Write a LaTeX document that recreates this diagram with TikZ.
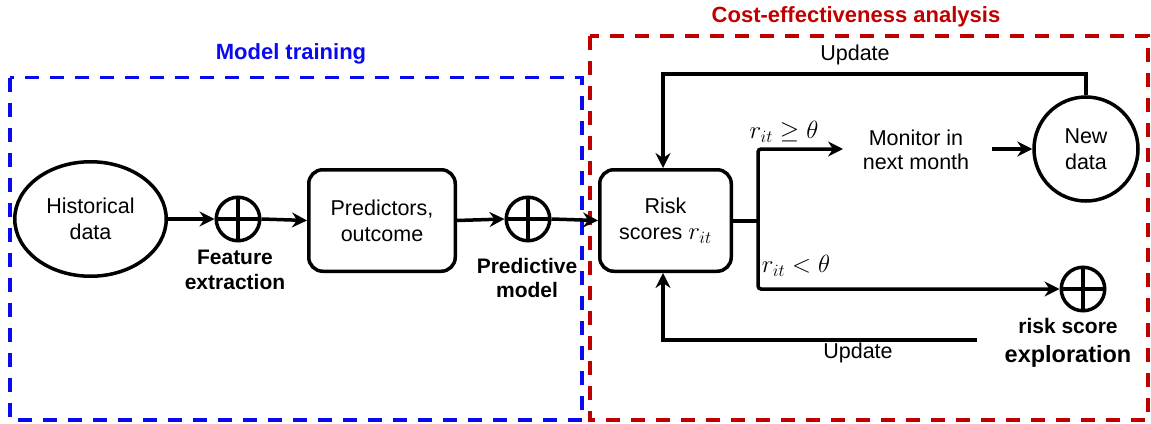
\documentclass[tikz,border=0pt]{standalone}
\usepackage{fontspec}
\setmainfont{Liberation Sans}
\usetikzlibrary{shapes.geometric,arrows.meta}
\definecolor{myred}{RGB}{192,0,0}
\definecolor{myblue}{RGB}{10,10,240}
\begin{document}
\begin{tikzpicture}[x=1pt,y=-1pt,
  every node/.style={font=\fontsize{21.5}{26}\selectfont},
  conn/.style={line width=3.5pt, -{Stealth[length=15pt,width=15pt,inset=5pt]}},
  ln/.style={line width=3.5pt},
  rbox/.style={draw, line width=3.5pt, rounded corners=14pt, align=center, inner sep=0pt, minimum height=101.5pt},
  plus/.style={draw, circle, line width=3.5pt, minimum size=43.5pt, inner sep=0pt,
    path picture={\draw[line width=3.5pt] (path picture bounding box.north) -- (path picture bounding box.south)
      (path picture bounding box.west) -- (path picture bounding box.east);}},
  lbl/.style={font=\bfseries\fontsize{21}{24.5}\selectfont, align=center},
  ttl/.style={font=\bfseries\fontsize{22}{26}\selectfont},
  mth/.style={font=\fontsize{24}{26}\selectfont},
  frame/.style={line width=3.8pt, dash pattern=on 14pt off 11pt}
]
\useasboundingbox (0,0) rectangle (1151,423);

% frames
\draw[frame, myblue] (10,77.5) rectangle (582,420);
\draw[frame, myred] (590,36) rectangle (1148,420);
\node[ttl, text=myblue] (t1) at (291,54) {Model training};
\node[ttl, text=myred] (t2) at (856,17) {Cost-effectiveness analysis};

% model training
\node[draw, ellipse, line width=3.5pt, minimum width=151.5pt, minimum height=114.5pt, inner sep=0pt, align=center] (hist) at (90.5,219) {Historical\\data};
\node[plus] (fe) at (238,219) {};
\node[lbl] (fel) at (235,270) {Feature\\extraction};
\node[rbox, minimum width=146.5pt] (pred) at (382,220.5) {Predictors,\\outcome};
\node[plus] (pm) at (528,219) {};
\node[lbl] (pml) at (527,278) {Predictive\\model};

% cost-effectiveness
\node[rbox, minimum width=131.5pt] (risk) at (665.5,220.5) {Risk\\scores {\fontsize{24}{26}\selectfont$r_{it}$}};
\node[align=center, font=\fontsize{21.5}{24}\selectfont] (mon) at (916,150) {Monitor in\\next month};
\node[draw, circle, line width=3.5pt, minimum size=104pt, inner sep=0pt, align=center] (nd) at (1086,149) {New\\data};
\node[plus] (rse) at (1083,289) {};
\node[align=center, font=\bfseries\fontsize{21}{29}\selectfont] (rsel) at (1068,343) {risk score\\{\fontsize{23.5}{28}\selectfont exploration}};

\draw[conn] (hist.east) -- (fe.west);
\draw[conn] (fe.east) -- (pred.west);
\draw[conn] (pred.east) -- (pm.west);
\draw[conn] (pm.east) -- (risk.west);

\coordinate (split) at (758,221);
\coordinate (monin) at (843,149);
\draw[ln] (risk.east |- split) -- (split);
\draw[conn, rounded corners=3pt] (split) |- (monin);
\draw[conn, rounded corners=3pt] (split) |- (rse.west);
\node[mth] (ge) at (784,132) {$r_{it} \geq \theta$};
\node[mth] (lt) at (796,266) {$r_{it} < \theta$};

\draw[conn] ([xshift=19pt]mon.east |- nd.west) -- (nd.west);

% updates
\coordinate (ut) at (663,74);
\draw[conn] (nd.north) |- (ut) -- (ut |- risk.north);
\node (upd1) at (855,55) {Update};
\coordinate (ub) at (977,340);
\coordinate (ubc) at (663,340);
\draw[conn] (ub) -- (ubc) -- (ubc |- risk.south);
\node (upd2) at (858,353) {Update};
\end{tikzpicture}
\end{document}
